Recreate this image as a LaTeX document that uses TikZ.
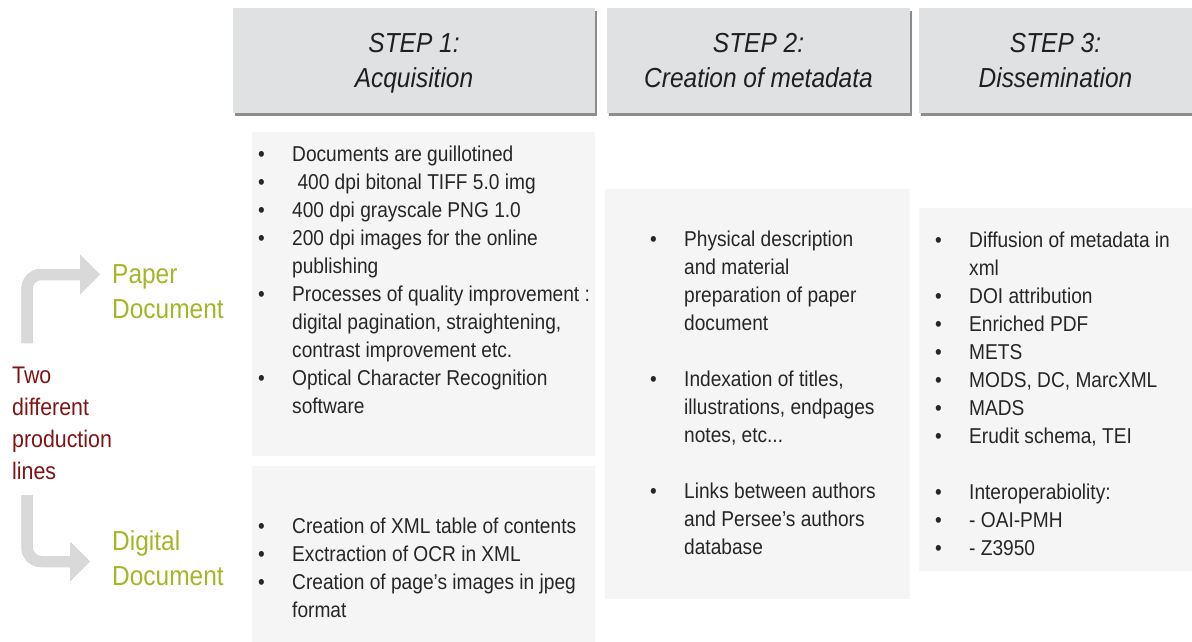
\documentclass[tikz,border=0pt]{standalone}
\usepackage{fontspec}
\setmainfont[FakeStretch=0.89]{Liberation Sans}
\usetikzlibrary{arrows.meta,shadows}
\definecolor{headfill}{RGB}{223,225,226}
\definecolor{panelfill}{RGB}{245,245,245}
\definecolor{textgrey}{RGB}{38,38,38}
\definecolor{papergreen}{RGB}{166,181,40}
\definecolor{linered}{RGB}{128,20,20}
\definecolor{arrowgrey}{RGB}{217,217,217}
\newcommand{\itm}[1]{\makebox[34pt][l]{\textbullet}#1}
\newcommand{\cnt}[1]{\hspace*{34pt}#1}
\begin{document}
\begin{tikzpicture}[x=1pt,y=-1pt,line cap=round,line join=round,
	head/.style={fill=headfill,minimum height=105pt,inner sep=0pt,align=center,text=black!88,
		text depth=0pt,font=\fontsize{27.5}{35}\selectfont\itshape,
		drop shadow={shadow xshift=1.5pt,shadow yshift=-3pt,fill=black!45,opacity=1}},
	panel/.style={fill=panelfill},
	list/.style={anchor=west,inner sep=0pt,align=left,text=textgrey,font=\fontsize{21.5}{28}\selectfont},
	side/.style={anchor=west,inner sep=0pt,align=left},
	bentarrow/.style={line width=11pt,line cap=butt,rounded corners=14pt,-{Triangle[width=38pt,length=20pt]}}]
	\useasboundingbox (0,0) rectangle (1192,641);
	\node[head,minimum width=362pt] (step1) at (414,60.5) {\vphantom{Ay}\smash{STEP 1:}\\\smash{Acquisition}};
	\node[head,minimum width=303pt] (step2) at (758.5,60.5) {\vphantom{Ay}\smash{STEP 2:}\\\smash{Creation of metadata}};
	\node[head,minimum width=273pt] (step3) at (1055.5,60.5) {\vphantom{Ay}\smash{STEP 3:}\\\smash{Dissemination}};
	\fill[panel] (252,132) rectangle (595,456);
	\fill[panel] (252,466) rectangle (595,645);
	\fill[panel] (605,189) rectangle (910,599);
	\fill[panel] (919,208) rectangle (1195,571);
	\node[list] (paperlist) at (258,280) {\itm{Documents are guillotined}\\
		\itm{\ 400 dpi bitonal TIFF 5.0 img}\\
		\itm{400 dpi grayscale PNG 1.0}\\
		\itm{200 dpi images for the online}\\
		\cnt{publishing}\\
		\itm{Processes of quality improvement :}\\
		\cnt{digital pagination, straightening,}\\
		\cnt{contrast improvement etc.}\\
		\itm{Optical Character Recognition}\\
		\cnt{software}};
	\node[list] (digitallist) at (258,567.5) {\itm{Creation of XML table of contents}\\
		\itm{Exctraction of OCR in XML}\\
		\itm{Creation of page’s images in jpeg}\\
		\cnt{format}};
	\node[list] (metalist) at (650,393) {\itm{Physical description}\\
		\cnt{and material}\\
		\cnt{preparation of paper}\\
		\cnt{document}\\[28pt]
		\itm{Indexation of titles,}\\
		\cnt{illustrations, endpages}\\
		\cnt{notes, etc...}\\[28pt]
		\itm{Links between authors}\\
		\cnt{and Persee’s authors}\\
		\cnt{database}};
	\node[list] (disslist) at (935,393.5) {\itm{Diffusion of metadata in}\\
		\cnt{xml}\\
		\itm{DOI attribution}\\
		\itm{Enriched PDF}\\
		\itm{METS}\\
		\itm{MODS, DC, MarcXML}\\
		\itm{MADS}\\
		\itm{Erudit schema, TEI}\\[28pt]
		\itm{Interoperabiolity:}\\
		\itm{- OAI-PMH}\\
		\itm{- Z3950}};
	\node[side,text=papergreen,font=\fontsize{27.5}{35}\selectfont] (paper) at (112,291.5) {Paper\\Document};
	\node[side,text=papergreen,font=\fontsize{27.5}{35}\selectfont] (digital) at (112,558.5) {Digital\\Document};
	\node[side,text=linered,font=\fontsize{24}{32}\selectfont] (lines) at (12,423.5) {Two\\different\\production\\lines};
	\coordinate (upstart) at (27,343);
	\coordinate (downstart) at (27,495);
	\begin{scope}[shift={(1.5,2)}]
		\draw[bentarrow,black!28] (upstart) |- ([xshift=-12pt,yshift=17pt]paper.west);
		\draw[bentarrow,black!28] (downstart) |- ([xshift=-22pt,yshift=-3pt]digital.west);
	\end{scope}
	\draw[bentarrow,arrowgrey] (upstart) |- ([xshift=-12pt,yshift=17pt]paper.west);
	\draw[bentarrow,arrowgrey] (downstart) |- ([xshift=-22pt,yshift=-3pt]digital.west);
\end{tikzpicture}
\end{document}
